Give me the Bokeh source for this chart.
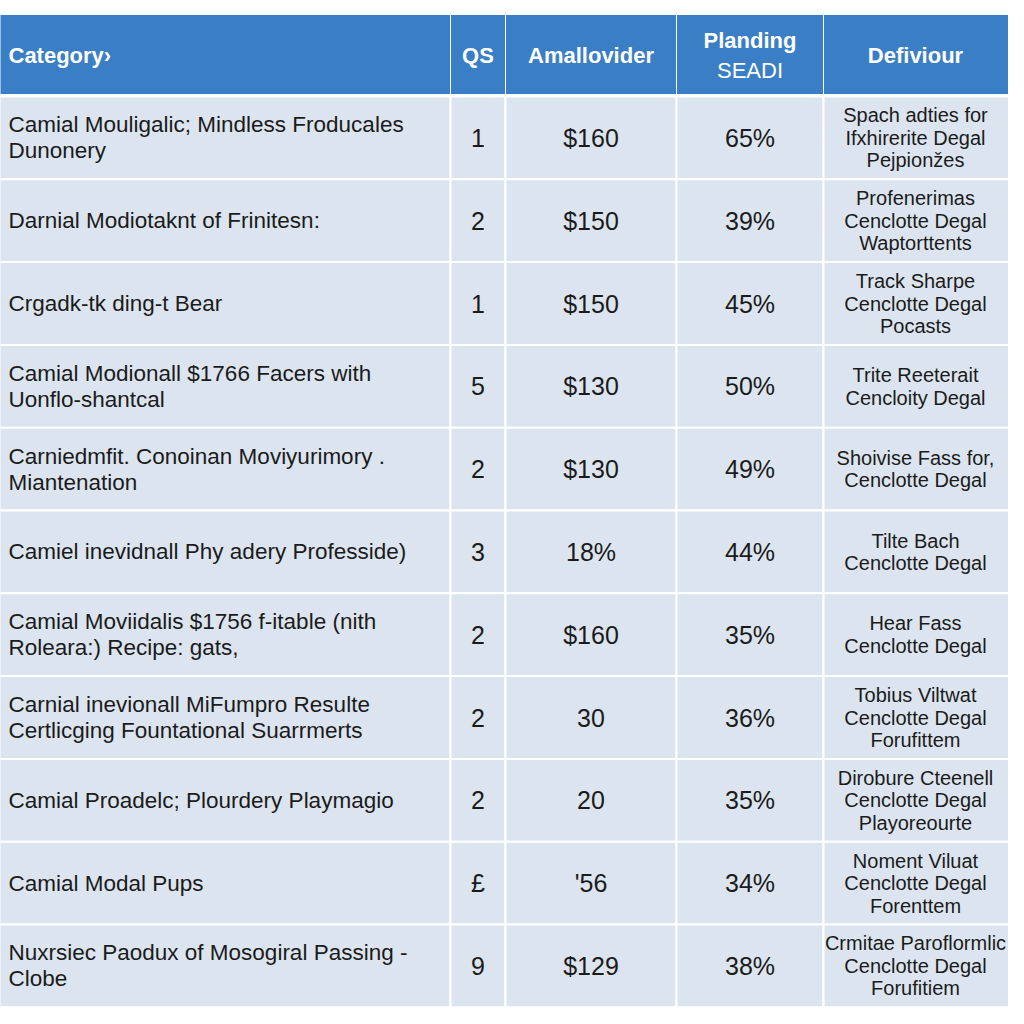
from bokeh.plotting import figure
from bokeh.models import Range1d, ColumnDataSource
from bokeh.core.properties import value
from bokeh.embed import file_html
from bokeh.resources import INLINE

# ---- data ----
headers = ["Category›", "QS", "Amallovider", "Planding\nSEADI", "Defiviour"]
categories = [
    "Camial Mouligalic; Mindless Froducales\nDunonery",
    "Darnial Modiotaknt of Frinitesn:",
    "Crgadk-tk ding-t Bear",
    "Camial Modionall $1766 Facers with\nUonflo-shantcal",
    "Carniedmfit. Conoinan Moviyurimory .\nMiantenation",
    "Camiel inevidnall Phy adery Professide)",
    "Camial Moviidalis $1756 f-itable (nith\nRoleara:) Recipe: gats,",
    "Carnial inevionall MiFumpro Resulte\nCertlicging Fountational Suarrmerts",
    "Camial Proadelc; Plourdery Playmagio",
    "Camial Modal Pups",
    "Nuxrsiec Paodux of Mosogiral Passing -\nClobe",
]
qs = ["1", "2", "1", "5", "2", "3", "2", "2", "2", "£", "9"]
amounts = ["$160", "$150", "$150", "$130", "$130", "18%", "$160", "30", "20", "'56", "$129"]
planding = [65, 39, 45, 50, 49, 44, 35, 36, 35, 34, 38]
defiviour = [
    "Spach adties for\nIfxhirerite Degal\nPejpionžes",
    "Profenerimas\nCenclotte Degal\nWaptorttents",
    "Track Sharpe\nCenclotte Degal\nPocasts",
    "Trite Reeterait\nCencloity Degal",
    "Shoivise Fass for,\nCenclotte Degal",
    "Tilte Bach\nCenclotte Degal",
    "Hear Fass\nCenclotte Degal",
    "Tobius Viltwat\nCenclotte Degal\nForufittem",
    "Dirobure Cteenell\nCenclotte Degal\nPlayoreourte",
    "Noment Viluat\nCenclotte Degal\nForenttem",
    "Crmitae Paroflormlic\nCenclotte Degal\nForufitiem",
]

# ---- layout ----
W = H = 1008
col_edges = [-5, 450, 505, 676, 823, 1015]
head_top, head_bot = 14, 94
row_top0, row_h = 96, 82.8
n = len(categories)

FONT = value("Liberation Sans")
HEAD_BG = "#3a7ec5"
CELL_BG = "#dce5ef"
TXT = "#1b1b1b"

p = figure(width=W, height=H, x_range=Range1d(0, W), y_range=Range1d(H, 0),
           x_axis_type=None, y_axis_type=None, output_backend="svg",
           toolbar_location=None, min_border=0)
p.grid.visible = False
p.outline_line_color = None
p.background_fill_color = "white"
p.border_fill_color = "white"

# header cells
p.quad(left=col_edges[:-1], right=col_edges[1:], top=[head_top] * 5, bottom=[head_bot] * 5,
       fill_color=HEAD_BG, line_color="white", line_width=1)

# body cells
L, R, T, B = [], [], [], []
for i in range(n):
    for c in range(5):
        L.append(col_edges[c]); R.append(col_edges[c + 1])
        T.append(row_top0 + i * row_h); B.append(row_top0 + (i + 1) * row_h)
p.quad(left=L, right=R, top=T, bottom=B, fill_color=CELL_BG, line_color="white", line_width=2)

# header text
centers = [(col_edges[c] + col_edges[c + 1]) / 2 for c in range(5)]
centers[4] = 915
hx, hy, ht, hw, ha = [], [], [], [], []
for c, h in enumerate(headers):
    lines = h.split("\n")
    for k, ln in enumerate(lines):
        hx.append(8 if c == 0 else centers[c])
        ha.append("left" if c == 0 else "center")
        hy.append((head_top + head_bot) / 2 + (k - (len(lines) - 1) / 2) * 30 + 1)
        ht.append(ln)
        hw.append("bold" if k == 0 else "normal")
p.text(x="x", y="y", text="t", text_align="a", text_font_style="w",
       source=ColumnDataSource(dict(x=hx, y=hy, t=ht, a=ha, w=hw)),
       text_baseline="middle", text_color="white", text_font=FONT, text_font_size="22px")

# category text
cx, cy, ct = [], [], []
for i, s in enumerate(categories):
    lines = s.split("\n")
    mid = row_top0 + (i + 0.5) * row_h
    for k, ln in enumerate(lines):
        cx.append(8); cy.append(mid + (k - (len(lines) - 1) / 2) * 26); ct.append(ln)
p.text(x=cx, y=cy, text=ct, text_align="left", text_baseline="middle",
       text_color=TXT, text_font=FONT, text_font_size="22.5px")

# numeric columns
mids = [row_top0 + (i + 0.5) * row_h for i in range(n)]
for c, vals in ((1, qs), (2, amounts), (3, [f"{v}%" for v in planding])):
    p.text(x=[centers[c]] * n, y=mids, text=vals, text_align="center", text_baseline="middle",
           text_color=TXT, text_font=FONT, text_font_size="25px")

# defiviour text
dx, dy, dt = [], [], []
for i, s in enumerate(defiviour):
    lines = s.split("\n")
    for k, ln in enumerate(lines):
        dx.append(centers[4]); dy.append(mids[i] + (k - (len(lines) - 1) / 2) * 22.5); dt.append(ln)
p.text(x=dx, y=dy, text=dt, text_align="center", text_baseline="middle",
       text_color=TXT, text_font=FONT, text_font_size="20px")

open("out.html", "w").write(file_html(p, INLINE))
